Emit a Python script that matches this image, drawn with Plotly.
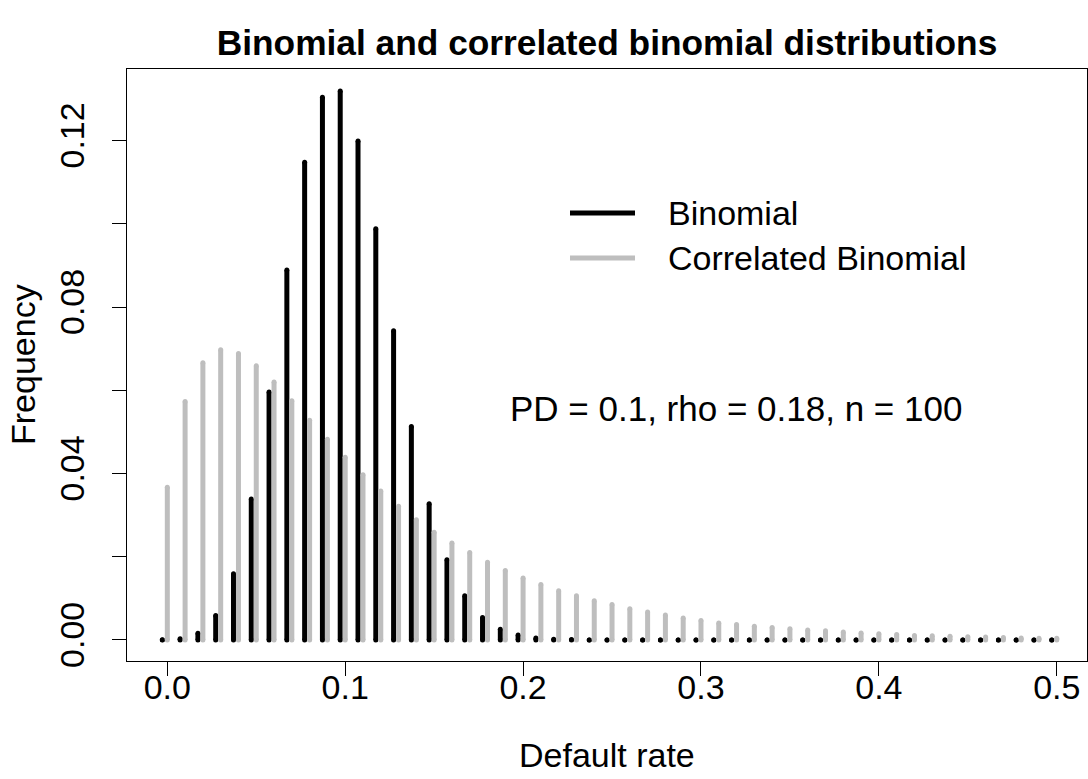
import plotly.graph_objects as go

# Number of defaults k = 0..50 out of n = 100 -> default rate k/100
default_rate = [k / 100 for k in range(51)]

binomial = [0.00003, 0.0003, 0.0016, 0.0059, 0.0159, 0.0339, 0.0596, 0.0889,
            0.1148, 0.1304, 0.1319, 0.1199, 0.0988, 0.0743, 0.0513, 0.0327,
            0.0193, 0.0106, 0.0054, 0.0026, 0.0012, 0.0005, 0.0002, 0.0001,
            0.0, 0.0, 0.0, 0.0, 0.0, 0.0, 0.0, 0.0, 0.0, 0.0, 0.0, 0.0,
            0.0, 0.0, 0.0, 0.0, 0.0, 0.0, 0.0, 0.0, 0.0, 0.0, 0.0, 0.0,
            0.0, 0.0, 0.0]

correlated = [0.0367, 0.0573, 0.0666, 0.0697, 0.0688, 0.0659, 0.0620, 0.0575,
              0.0528, 0.0482, 0.0439, 0.0397, 0.0358, 0.0321, 0.0289, 0.0259,
              0.0233, 0.0210, 0.0187, 0.0167, 0.0149, 0.0133, 0.0118, 0.0106,
              0.0094, 0.0085, 0.0075, 0.0067, 0.0060, 0.0053, 0.0047, 0.0041,
              0.0037, 0.0033, 0.0030, 0.0027, 0.0024, 0.0022, 0.0019, 0.0017,
              0.0015, 0.0013, 0.0011, 0.0010, 0.0009, 0.0008, 0.0007, 0.0006,
              0.0005, 0.0004, 0.0004]

black_offset = -0.0028  # binomial spikes drawn slightly left of the correlated ones

x_ticks = [0.0, 0.1, 0.2, 0.3, 0.4, 0.5]
x_ticktext = ["0.0", "0.1", "0.2", "0.3", "0.4", "0.5"]
y_ticks = [0.00, 0.02, 0.04, 0.06, 0.08, 0.10, 0.12]
y_ticktext = ["0.00", "", "0.04", "", "0.08", "", "0.12"]

FONT = "Liberation Sans, Arial, Helvetica, sans-serif"
BLACK = "#000000"
GREY = "#BEBEBE"


def spikes(xs, ys, dx=0.0):
    px, py = [], []
    for x, y in zip(xs, ys):
        px += [x + dx, x + dx, None]
        py += [0, y, None]
    return px, py


fig = go.Figure()
bx, by = spikes(default_rate, binomial, black_offset)
fig.add_trace(go.Scatter(x=bx, y=by, mode="lines+markers",
                         line=dict(color=BLACK, width=5),
                         marker=dict(color=BLACK, size=5, line=dict(width=0)),
                         name="Binomial", hoverinfo="skip"))
gx, gy = spikes(default_rate, correlated)
fig.add_trace(go.Scatter(x=gx, y=gy, mode="lines+markers",
                         line=dict(color=GREY, width=5),
                         marker=dict(color=GREY, size=5, line=dict(width=0)),
                         name="Correlated Binomial", hoverinfo="skip"))

W, H = 1088, 779
ml, mr, mt, mb = 127, 1, 69, 118
pw, ph = W - ml - mr, H - mt - mb


def px2paper(x, y):
    return (x - ml) / pw, (H - mb - y) / ph


shapes = []
annotations = []
for (yy, col, label) in [(213, BLACK, "Binomial"), (258, GREY, "Correlated Binomial")]:
    x0, y0 = px2paper(570, yy)
    x1, _ = px2paper(635, yy)
    shapes.append(dict(type="line", xref="paper", yref="paper", x0=x0, x1=x1,
                       y0=y0, y1=y0, line=dict(color=col, width=5)))
    tx, _ = px2paper(666, yy)
    annotations.append(dict(x=tx, y=y0, xref="paper", yref="paper", text=label,
                            showarrow=False, xanchor="left", yanchor="middle",
                            font=dict(family=FONT, size=34, color=BLACK)))

annotations.append(dict(x=0.3195, y=0.0555, xref="x", yref="y",
                        text="PD = 0.1, rho = 0.18, n = 100", showarrow=False,
                        xanchor="center", yanchor="middle",
                        font=dict(family=FONT, size=35, color=BLACK)))

xt, yt = px2paper(607, 755)
annotations.append(dict(x=0.5, y=yt, xref="paper", yref="paper", text="Default rate",
                        showarrow=False, xanchor="center", yanchor="middle",
                        font=dict(family=FONT, size=34, color=BLACK)))
xf, _ = px2paper(23, 365)
annotations.append(dict(x=xf, y=0.5, xref="paper", yref="paper", text="Frequency",
                        showarrow=False, xanchor="center", yanchor="middle",
                        textangle=-90, font=dict(family=FONT, size=34, color=BLACK)))

fig.update_layout(
    width=W, height=H,
    margin=dict(l=ml, r=mr, t=mt, b=mb, pad=0),
    paper_bgcolor="white", plot_bgcolor="white",
    showlegend=False,
    title=dict(text="<b>Binomial and correlated binomial distributions</b>",
               x=0.5, xref="paper", y=1 - 43 / H, yref="container",
               xanchor="center", yanchor="middle",
               font=dict(family=FONT, size=35.3, color=BLACK)),
    shapes=shapes,
    annotations=annotations,
    font=dict(family=FONT, color=BLACK),
)

fig.update_xaxes(range=[-0.02266, 0.5170], tickvals=x_ticks, ticktext=x_ticktext,
                 showgrid=False, zeroline=False, showline=True, mirror=True,
                 linecolor=BLACK, linewidth=1.3, ticks="outside", ticklen=14,
                 tickwidth=1.3, tickcolor=BLACK, ticklabelstandoff=-18,
                 tickfont=dict(family=FONT, size=34, color=BLACK))
fig.update_yaxes(range=[-0.00505, 0.13718], tickvals=y_ticks, ticktext=y_ticktext,
                 showgrid=False, zeroline=False, showline=True, mirror=True,
                 linecolor=BLACK, linewidth=1.3, ticks="outside", ticklen=14,
                 tickwidth=1.3, tickcolor=BLACK, tickangle=-90,
                 ticklabelstandoff=14,
                 tickfont=dict(family=FONT, size=34, color=BLACK))

fig.write_html("out.html", config={"displayModeBar": False},
               post_script="document.body.style.margin='0';document.body.style.overflow='hidden';")
